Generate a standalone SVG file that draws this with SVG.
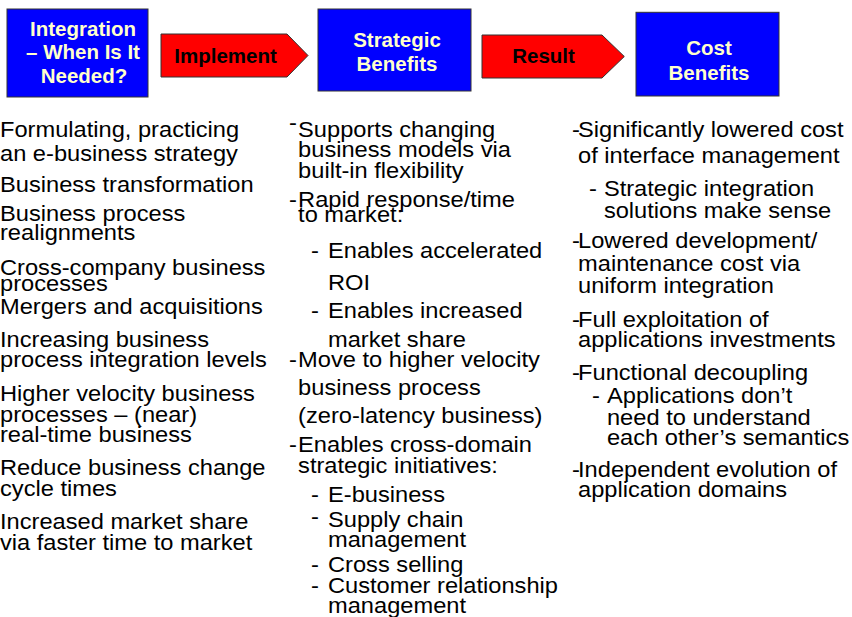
<svg xmlns="http://www.w3.org/2000/svg" width="852" height="617" viewBox="0 0 852 617">
  <style>
    .box { fill: #0000FF; stroke: #333333; stroke-width: 1; }
    .step { fill: #FF0000; stroke: #333333; stroke-width: 1; }
    .boxtxt { font-family: "Liberation Sans", Arial, sans-serif; font-weight: bold; font-size: 20.5px; fill: #FFFFCC; text-anchor: middle; }
    .steptxt { font-family: "Liberation Sans", Arial, sans-serif; font-weight: bold; font-size: 20.5px; fill: #000000; text-anchor: middle; }
    .body text { font-family: "Liberation Sans", Arial, sans-serif; font-size: 21.5px; fill: #000000; }
  </style>
  <rect width="852" height="617" fill="#FFFFFF"/>

  <!-- header boxes -->
  <g id="when-needed">
    <rect class="box" x="7" y="9" width="141" height="88"/>
    <text class="boxtxt" x="83" y="35.7">Integration</text>
    <text class="boxtxt" x="83" y="59.3">– When Is It</text>
    <text class="boxtxt" x="84" y="83.3">Needed?</text>
  </g>
  <g id="strategic-benefits">
    <rect class="box" x="318" y="9" width="153" height="82"/>
    <text class="boxtxt" x="397" y="47">Strategic</text>
    <text class="boxtxt" x="397" y="71">Benefits</text>
  </g>
  <g id="cost-benefits">
    <rect class="box" x="636" y="12.3" width="143" height="83.7"/>
    <text class="boxtxt" x="709" y="55">Cost</text>
    <text class="boxtxt" x="709" y="80">Benefits</text>
  </g>

  <!-- step arrows between the boxes -->
  <g id="connectors">
    <g id="implement">
      <polygon class="step" points="161,34 287,34 308,55.5 287,77 161,77"/>
      <text class="steptxt" x="225.5" y="63">Implement</text>
    </g>
    <g id="result">
      <polygon class="step" points="482,35 602,35 624.3,56.5 602,78 482,78"/>
      <text class="steptxt" x="543.5" y="63">Result</text>
    </g>
  </g>

  <!-- bullet lists, slightly widened type -->
  <g class="body" transform="scale(1.1 1)">
    <g id="needs-list">
      <text x="0" y="137.5">Formulating, practicing</text>
      <text x="0" y="161">an e-business strategy</text>
      <text x="0" y="192">Business transformation</text>
      <text x="0" y="221">Business process</text>
      <text x="0" y="240.5">realignments</text>
      <text x="0" y="275">Cross-company business</text>
      <text x="0" y="291">processes</text>
      <text x="0" y="314">Mergers and acquisitions</text>
      <text x="0" y="347.5">Increasing business</text>
      <text x="0" y="367">process integration levels</text>
      <text x="0" y="401.5">Higher velocity business</text>
      <text x="0" y="422.5">processes – (near)</text>
      <text x="0" y="442.5">real-time business</text>
      <text x="0" y="475.5">Reduce business change</text>
      <text x="0" y="496.5">cycle times</text>
      <text x="0" y="529">Increased market share</text>
      <text x="0" y="550.5">via faster time to market</text>
    </g>

    <g id="strategic-list">
      <text x="262.7" y="130.5">-</text>
      <text x="271" y="136.7">Supports changing</text>
      <text x="271" y="156.7">business models via</text>
      <text x="271" y="178.3">built-in flexibility</text>
      <text x="262.7" y="206.7">-</text>
      <text x="271" y="206.7">Rapid response/time</text>
      <text x="271" y="221.7">to market:</text>
      <text x="282.7" y="258.3">-</text>
      <text x="298.2" y="258.3">Enables accelerated</text>
      <text x="298.2" y="290">ROI</text>
      <text x="282.7" y="318.3">-</text>
      <text x="298.2" y="318.3">Enables increased</text>
      <text x="298.2" y="346.7">market share</text>
      <text x="262.7" y="366.7">-</text>
      <text x="271" y="366.7">Move to higher velocity</text>
      <text x="271" y="395">business process</text>
      <text x="271" y="423.3">(zero-latency business)</text>
      <text x="262.7" y="451.7">-</text>
      <text x="271" y="451.7">Enables cross-domain</text>
      <text x="271" y="473.3">strategic initiatives:</text>
      <text x="282.7" y="501.7">-</text>
      <text x="298.2" y="501.7">E-business</text>
      <text x="282.7" y="524">-</text>
      <text x="298.2" y="526.7">Supply chain</text>
      <text x="298.2" y="546.7">management</text>
      <text x="282.7" y="571.7">-</text>
      <text x="298.2" y="571.7">Cross selling</text>
      <text x="282.7" y="593.3">-</text>
      <text x="298.2" y="593.3">Customer relationship</text>
      <text x="298.2" y="612.7">management</text>
    </g>

    <g id="cost-list">
      <text x="520" y="136.7">-</text>
      <text x="525.5" y="136.7">Significantly lowered cost</text>
      <text x="525.5" y="163.3">of interface management</text>
      <text x="535.5" y="196">-</text>
      <text x="549" y="196">Strategic integration</text>
      <text x="549" y="218.3">solutions make sense</text>
      <text x="520" y="248.3">-</text>
      <text x="525.5" y="248.3">Lowered development/</text>
      <text x="525.5" y="270.7">maintenance cost via</text>
      <text x="525.5" y="292.7">uniform integration</text>
      <text x="520" y="326.7">-</text>
      <text x="525.5" y="326.7">Full exploitation of</text>
      <text x="525.5" y="346.7">applications investments</text>
      <text x="520" y="380">-</text>
      <text x="525.5" y="380">Functional decoupling</text>
      <text x="538.2" y="403.3">-</text>
      <text x="551.8" y="403.3">Applications don’t</text>
      <text x="551.8" y="425">need to understand</text>
      <text x="551.8" y="445">each other’s semantics</text>
      <text x="520" y="476.7">-</text>
      <text x="525.5" y="476.7">Independent evolution of</text>
      <text x="525.5" y="496.7">application domains</text>
    </g>
  </g>
</svg>
